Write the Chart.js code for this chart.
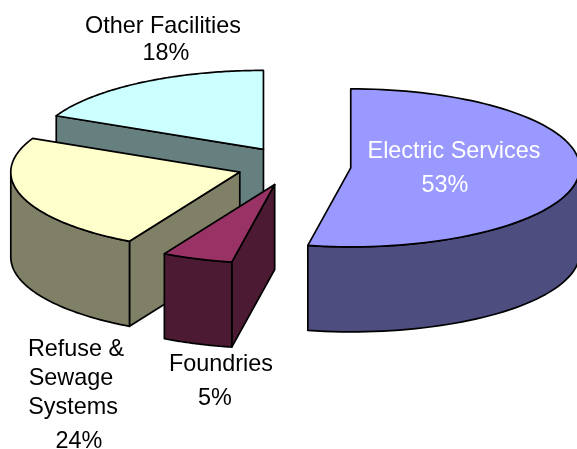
<!DOCTYPE html>
<html>
<head>
<meta charset="utf-8">
<style>html,body{margin:0;padding:0;background:#fff}canvas{display:block}</style>
<script src="https://cdn.jsdelivr.net/npm/chart.js@4"></script>
</head>
<body>
<canvas id="c" width="577" height="449"></canvas>
<script>
const categories = ["Electric Services", "Foundries", "Refuse & Sewage Systems", "Other Facilities"];
const values = [53, 5, 24, 18];
const topColors = ["#9999ff", "#993366", "#ffffcc", "#ccffff"];
const wallColors = ["#4d4d80", "#4d1a33", "#808066", "#668080"];

const tilt = 0.345, depth = 85, explode = 57, pieRadius = 229;
const font = '23.4px "Liberation Sans", Arial, sans-serif';

// category index, lines with their centre and middle line
const labelLayout = [
  {i: 0, color: "#ffffff", lines: [[454, 152], [445, 186]]},
  {i: 1, color: "#000000", lines: [[221, 365], [215, 399]]},
  {i: 2, color: "#000000", split: ["Refuse &", "Sewage", "Systems"], lines: [[76, 350], [71, 379], [73, 408], [79, 442]]},
  {i: 3, color: "#000000", lines: [[163, 27], [166, 54]]}
];

const pie3d = {
  id: "pie3d",
  beforeDatasetsDraw(chart) {
    const ctx = chart.ctx;
    const arcs = chart.getDatasetMeta(0).data.map((arc, i) => {
      const p = arc.getProps(["x", "y", "startAngle", "endAngle", "outerRadius"], true);
      const mid = (p.startAngle + p.endAngle) / 2;
      return {arc, i, p, R: p.outerRadius, dx: Math.cos(mid) * explode, dy: Math.sin(mid) * explode};
    });
    const project = (s, y) => s.p.y + (y - s.p.y) * tilt;
    const apexOf = s => [s.p.x + s.dx, project(s, s.p.y + s.dy)];
    arcs.sort((a, b) => apexOf(a)[1] - apexOf(b)[1]);
    function rim(s, a) {
      return [s.p.x + s.dx + Math.cos(a) * s.R, project(s, s.p.y + s.dy + Math.sin(a) * s.R)];
    }
    function poly(pts, fill) {
      ctx.beginPath();
      pts.forEach((q, n) => n ? ctx.lineTo(q[0], q[1]) : ctx.moveTo(q[0], q[1]));
      ctx.closePath();
      if (fill) { ctx.fillStyle = fill; ctx.fill(); }
      ctx.strokeStyle = "#000";
      ctx.lineWidth = 1.7;
      ctx.lineJoin = "round";
      ctx.stroke();
    }
    function quad(a, b, fill) {
      poly([a, b, [b[0], b[1] + depth], [a[0], a[1] + depth]], fill);
    }
    for (const s of arcs) {
      const {startAngle: a0, endAngle: a1} = s.p;
      const apex = apexOf(s);
      const wall = wallColors[s.i];
      // cut faces
      if (Math.sin(a0 - Math.PI / 2) > 0.001) quad(apex, rim(s, a0), wall);
      if (Math.sin(a1 + Math.PI / 2) > 0.001) quad(apex, rim(s, a1), wall);
      // curved outer wall: the part of the sweep facing the viewer
      const from = Math.max(a0, 0), to = Math.min(a1, Math.PI);
      if (to > from) {
        const n = 48, top = [], bot = [];
        for (let k = 0; k <= n; k++) {
          const q = rim(s, from + (to - from) * k / n);
          top.push(q); bot.unshift([q[0], q[1] + depth]);
        }
        poly(top.concat(bot), wall);
      }
      // top face: the library's own arc, squashed and moved out
      ctx.save();
      ctx.translate(s.dx, s.p.y);
      ctx.scale(1, tilt);
      ctx.translate(0, -s.p.y + s.dy);
      s.arc.draw(ctx);
      ctx.restore();
      const outline = [apex];
      for (let k = 0; k <= 96; k++) outline.push(rim(s, a0 + (a1 - a0) * k / 96));
      poly(outline, null);
    }
    return false;
  },
  afterDraw(chart) {
    const ctx = chart.ctx;
    ctx.save();
    ctx.font = font;
    ctx.textAlign = "center";
    ctx.textBaseline = "middle";
    for (const l of labelLayout) {
      const texts = (l.split || [categories[l.i]]).concat(values[l.i] + "%");
      ctx.fillStyle = l.color;
      texts.forEach((t, n) => ctx.fillText(t, l.lines[n][0], l.lines[n][1]));
    }
    ctx.restore();
  }
};

new Chart(document.getElementById("c"), {
  type: "pie",
  data: {
    labels: categories,
    datasets: [{
      data: values,
      backgroundColor: topColors,
      borderWidth: 0
    }]
  },
  options: {
    responsive: false,
    animation: false,
    radius: pieRadius,
    layout: {padding: {left: 11, right: 0, top: 0, bottom: 117}},
    plugins: {legend: {display: false}, tooltip: {enabled: false}}
  },
  plugins: [pie3d]
});
</script>
</body>
</html>
